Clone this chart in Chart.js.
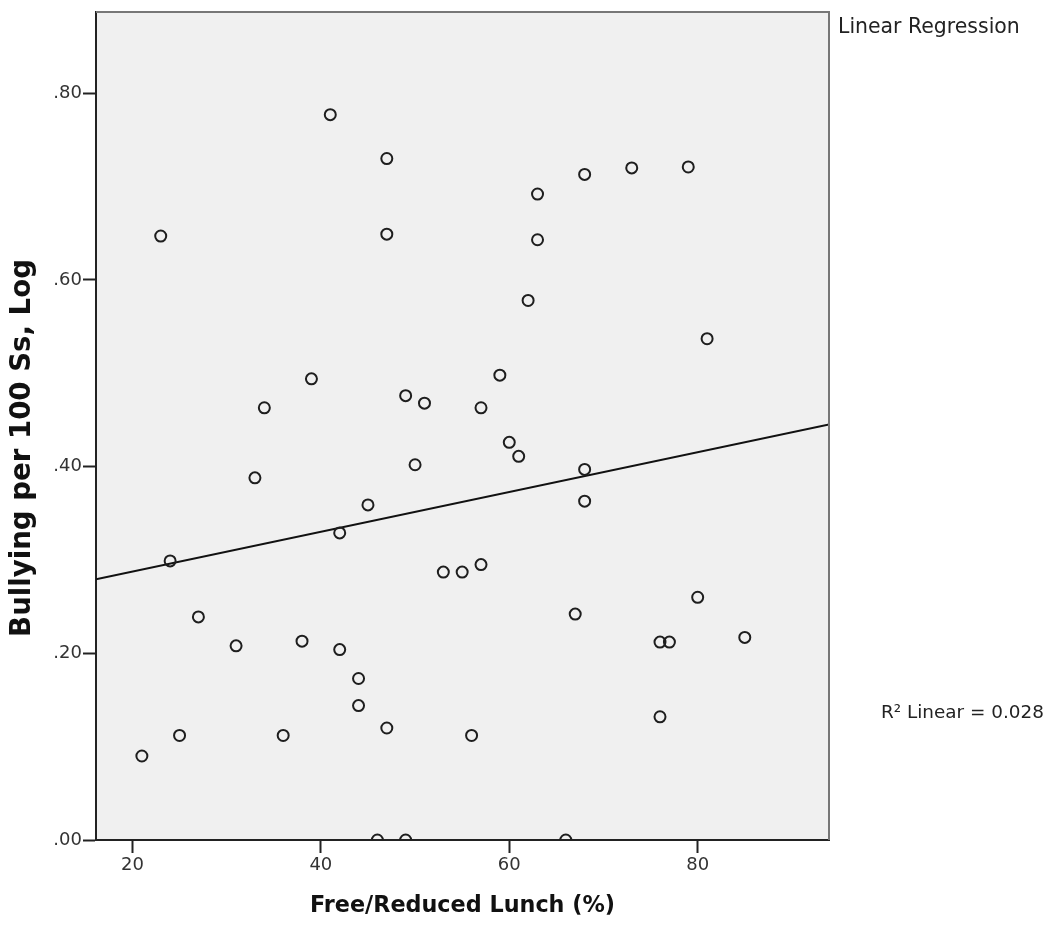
<!DOCTYPE html>
<html>
<head>
<meta charset="utf-8">
<title>Bullying vs Free/Reduced Lunch</title>
<script src="https://cdn.jsdelivr.net/npm/chart.js@4.4.1/dist/chart.umd.min.js"></script>
<style>
  html, body { margin: 0; padding: 0; background: #ffffff; }
  #wrap { width: 1051px; height: 925px; }
</style>
</head>
<body>
<div id="wrap"><canvas id="chart" width="1051" height="925"></canvas></div>
<script>
// Free/reduced lunch percentage per school
const lunchPct = [21, 23, 24, 25, 27, 31, 33, 34, 36, 38, 39, 41, 42, 42, 44, 44, 45, 46,
  47, 47, 47, 49, 49, 50, 51, 53, 55, 56, 57, 57, 59, 60, 61, 62, 63, 63, 66, 67, 68, 68,
  68, 73, 76, 76, 77, 79, 80, 81, 85];
// Bullying incidents per 100 students, log scale
const bullyingLog = [0.090, 0.647, 0.299, 0.112, 0.239, 0.208, 0.388, 0.463, 0.112, 0.213,
  0.494, 0.777, 0.329, 0.204, 0.173, 0.144, 0.359, 0.000, 0.730, 0.649, 0.120, 0.476, 0.000,
  0.402, 0.468, 0.287, 0.287, 0.112, 0.463, 0.295, 0.498, 0.426, 0.411, 0.578, 0.692, 0.643,
  0.000, 0.242, 0.713, 0.397, 0.363, 0.720, 0.212, 0.132, 0.212, 0.721, 0.260, 0.537, 0.217];

// Fitted linear regression
const fitIntercept = 0.245;
const fitSlope = 0.00213;
const rSquared = 0.028;

// Axis ranges and tick labels
const xRange = [16.13, 93.94];
const yRange = [0, 0.887];
const xTickValues = [20, 40, 60, 80];
const yTickValues = [0, 0.2, 0.4, 0.6, 0.8];

const xTitle = 'Free/Reduced Lunch (%)';
const yTitle = 'Bullying per 100 Ss, Log';
const fitHeading = 'Linear Regression';
const fitLabel = 'R\u00B2 Linear = ' + rSquared.toFixed(3);

const FONT = '"DejaVu Sans", "Noto Sans", sans-serif';

const points = lunchPct.map((x, i) => ({ x: x, y: bullyingLog[i] }));
const fitLine = xRange.map(x => ({ x: x, y: fitIntercept + fitSlope * x }));

// Pick a font size so the text spans the given width
function fitFont(ctx, text, weight, width) {
  ctx.font = weight + ' 20px ' + FONT;
  const w = ctx.measureText(text).width;
  return weight + ' ' + (20 * width / w).toFixed(2) + 'px ' + FONT;
}

const decorations = {
  id: 'decorations',
  beforeDraw(chart) {
    const { ctx, chartArea: a } = chart;
    ctx.save();
    ctx.fillStyle = '#f0f0f0';
    ctx.fillRect(a.left, a.top, a.right - a.left, a.bottom - a.top);
    ctx.restore();
  },
  afterDraw(chart) {
    const { ctx, chartArea: a } = chart;
    ctx.save();
    // top and right frame
    ctx.strokeStyle = '#777777';
    ctx.lineWidth = 2;
    ctx.beginPath();
    ctx.moveTo(a.left, a.top);
    ctx.lineTo(a.right, a.top);
    ctx.lineTo(a.right, a.bottom);
    ctx.stroke();

    // axis titles
    ctx.fillStyle = '#111111';
    ctx.textBaseline = 'middle';
    ctx.textAlign = 'center';
    ctx.font = fitFont(ctx, xTitle, 'bold', 305);
    ctx.fillText(xTitle, (a.left + a.right) / 2, 906);

    ctx.save();
    ctx.translate(23, 448);
    ctx.rotate(-Math.PI / 2);
    ctx.font = fitFont(ctx, yTitle, 'bold', 378);
    ctx.fillText(yTitle, 0, 0);
    ctx.restore();

    // fit annotations
    ctx.fillStyle = '#222222';
    ctx.textAlign = 'left';
    ctx.font = fitFont(ctx, fitHeading, 'normal', 182);
    ctx.fillText(fitHeading, a.right + 9, 28);
    ctx.font = fitFont(ctx, fitLabel, 'normal', 163);
    ctx.fillText(fitLabel, a.right + 52, 713);
    ctx.restore();
  }
};

new Chart(document.getElementById('chart'), {
  type: 'scatter',
  data: {
    datasets: [
      {
        type: 'line',
        data: fitLine,
        borderColor: '#111111',
        borderWidth: 2,
        pointRadius: 0,
        fill: false,
        order: 2
      },
      {
        data: points,
        pointRadius: 5.5,
        pointBorderWidth: 2,
        pointBorderColor: '#1e1e1e',
        pointBackgroundColor: 'rgba(0,0,0,0)',
        clip: 0,
        order: 1
      }
    ]
  },
  plugins: [decorations],
  options: {
    responsive: false,
    devicePixelRatio: 1,
    animation: false,
    layout: { padding: { top: 12, right: 222, left: 0, bottom: 0 } },
    plugins: {
      legend: { display: false },
      tooltip: { enabled: false }
    },
    scales: {
      x: {
        type: 'linear',
        min: xRange[0],
        max: xRange[1],
        afterFit(scale) { scale.height = 85; },
        afterBuildTicks(scale) { scale.ticks = xTickValues.map(v => ({ value: v })); },
        border: { display: true, color: '#222222', width: 2 },
        grid: { drawOnChartArea: false, drawTicks: true, tickLength: 13, tickWidth: 2, tickColor: '#222222' },
        ticks: {
          color: '#333333',
          font: { family: FONT, size: 18 },
          padding: 2,
          maxRotation: 0,
          callback: v => String(v)
        }
      },
      y: {
        type: 'linear',
        min: yRange[0],
        max: yRange[1],
        afterFit(scale) { scale.width = 96; },
        afterBuildTicks(scale) { scale.ticks = yTickValues.map(v => ({ value: v })); },
        border: { display: true, color: '#222222', width: 2 },
        grid: { drawOnChartArea: false, drawTicks: true, tickLength: 13, tickWidth: 2, tickColor: '#222222' },
        ticks: {
          color: '#333333',
          font: { family: FONT, size: 18 },
          padding: 1,
          callback: v => v.toFixed(2).replace(/^0/, '')
        }
      }
    }
  }
});
</script>
</body>
</html>
